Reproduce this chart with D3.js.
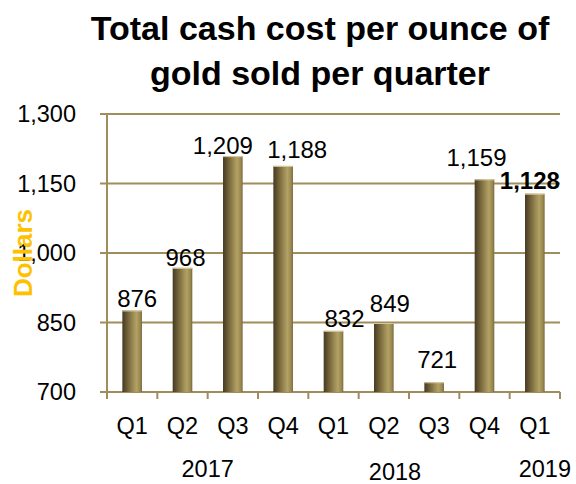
<!DOCTYPE html>
<html>
<head>
<meta charset="utf-8">
<script src="https://cdn.jsdelivr.net/npm/d3@7"></script>
<style>
  body { margin: 0; background: #fff; }
  text { font-family: "Liberation Sans", Arial, sans-serif; }
</style>
</head>
<body>
<div id="chart"></div>
<script>
// data
var quarters = ["Q1", "Q2", "Q3", "Q4", "Q1", "Q2", "Q3", "Q4", "Q1"];
var costs = [876, 968, 1209, 1188, 832, 849, 721, 1159, 1128];
var years = ["2017", "2018", "2019"];
var yearFirst = [0, 4, 8];      // first quarter index of each year
var yearLast = [3, 7, 8];       // last quarter index of each year
var yTicks = [700, 850, 1000, 1150, 1300];
var titleLines = ["Total cash cost per ounce of", "gold sold per quarter"];

(function(){
  var W = 576, H = 484;
  var m = {left: 107, right: 16, top: 114, bottom: 92};
  var gold = "#a08d5c";
  // labels were hand-moved in the original; [dx, gap above bar]
  var nudge = [[5, 3], [3, 2], [-10, 2], [14, 8], [11, 4], [6, 11], [3, 14], [-8, 13], [-5, 5]];

  var svg = d3.select("#chart").append("svg").attr("width", W).attr("height", H);

  var grad = svg.append("defs").append("linearGradient").attr("id", "cyl")
    .attr("x1", "0%").attr("x2", "100%").attr("y1", "0%").attr("y2", "0%");
  [[0, "#453a22"], [0.25, "#6e5f37"], [0.55, "#9c8b54"], [0.72, "#b2a265"], [0.9, "#9a8850"], [1, "#7a6a3e"]]
    .forEach(function(s){ grad.append("stop").attr("offset", s[0]).attr("stop-color", s[1]); });

  var x = d3.scaleBand().domain(d3.range(costs.length))
    .range([m.left, W - m.right]).paddingInner(0.61).paddingOuter(0.305);
  var y = d3.scaleLinear().domain([700, 1300]).range([H - m.bottom, m.top]);
  var step = x.step();
  var x0 = m.left, x1 = W - m.right;

  // gridlines (with small outside ticks on the left)
  svg.append("g").selectAll("line").data(yTicks).join("line")
    .attr("x1", x0 - 7).attr("x2", x1)
    .attr("y1", function(d){ return y(d); }).attr("y2", function(d){ return y(d); })
    .attr("stroke", gold).attr("stroke-width", 2);

  // y axis line
  svg.append("line").attr("x1", x0).attr("x2", x0).attr("y1", y(1300)).attr("y2", y(700) + 7)
    .attr("stroke", gold).attr("stroke-width", 2);

  // category tick marks below the axis
  svg.append("g").selectAll("line").data(d3.range(costs.length + 1)).join("line")
    .attr("x1", function(i){ return x0 + i * step; }).attr("x2", function(i){ return x0 + i * step; })
    .attr("y1", y(700)).attr("y2", y(700) + 7)
    .attr("stroke", gold).attr("stroke-width", 2);

  // y tick labels
  svg.append("g").selectAll("text").data(yTicks).join("text")
    .attr("x", x0 - 31).attr("y", function(d){ return y(d) + 8; })
    .attr("text-anchor", "end").attr("font-size", "23.5px").attr("fill", "#000")
    .text(function(d){ return d3.format(",")(d); });

  // bars
  svg.append("g").selectAll("rect").data(costs).join("rect")
    .attr("x", function(d, i){ return x(i); }).attr("width", x.bandwidth())
    .attr("y", function(d){ return y(d); })
    .attr("height", function(d){ return y(700) - y(d); })
    .attr("fill", "url(#cyl)");
  svg.append("g").selectAll("line").data(costs).join("line")
    .attr("x1", function(d, i){ return x(i); }).attr("x2", function(d, i){ return x(i) + x.bandwidth(); })
    .attr("y1", function(d){ return y(d) + 0.5; }).attr("y2", function(d){ return y(d) + 0.5; })
    .attr("stroke", "#d8cca0").attr("stroke-width", 1);

  // value labels
  svg.append("g").selectAll("text").data(costs).join("text")
    .attr("x", function(d, i){ return x(i) + x.bandwidth() / 2 + nudge[i][0]; })
    .attr("y", function(d, i){ return y(d) - nudge[i][1]; })
    .attr("text-anchor", "middle").attr("font-size", "24px").attr("fill", "#000")
    .attr("font-weight", function(d, i){ return i === costs.length - 1 ? "bold" : "normal"; })
    .text(function(d){ return d3.format(",")(d); });

  // quarter labels
  svg.append("g").selectAll("text").data(quarters).join("text")
    .attr("x", function(d, i){ return x(i) + x.bandwidth() / 2; })
    .attr("y", y(700) + 42)
    .attr("text-anchor", "middle").attr("font-size", "23.5px").attr("fill", "#000")
    .text(function(d){ return d; });

  // year labels
  var yearShift = [0, -14, 10], yearDrop = [85, 88, 85];
  svg.append("g").selectAll("text").data(years).join("text")
    .attr("x", function(d, i){ return (x(yearFirst[i]) + x(yearLast[i]) + x.bandwidth()) / 2 + yearShift[i]; })
    .attr("y", function(d, i){ return y(700) + yearDrop[i]; })
    .attr("text-anchor", "middle").attr("font-size", "23.5px").attr("fill", "#000")
    .text(function(d){ return d; });

  // y axis title
  svg.append("text")
    .attr("transform", "translate(32," + y(1000) + ") rotate(-90)")
    .attr("text-anchor", "middle").attr("font-size", "26px").attr("font-weight", "bold")
    .attr("fill", "#ffc000").text("Dollars");

  // title
  svg.append("g").selectAll("text").data(titleLines).join("text")
    .attr("x", 320).attr("y", function(d, i){ return 40 + i * 45; })
    .attr("text-anchor", "middle").attr("font-size", "34px").attr("font-weight", "bold")
    .attr("fill", "#000").text(function(d){ return d; });
})();
</script>
</body>
</html>
